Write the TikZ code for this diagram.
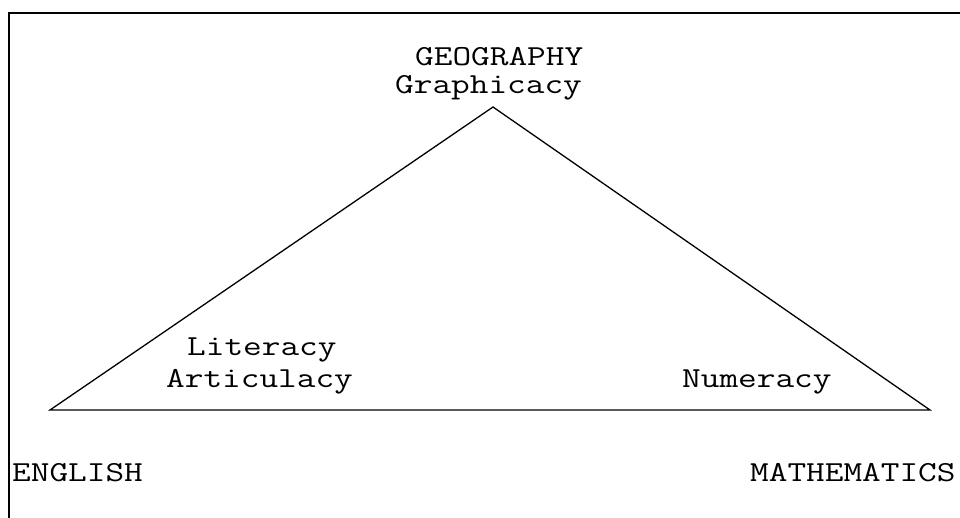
\documentclass[tikz,border=0pt]{standalone}
\newcommand{\wide}[1]{\scalebox{1.25}[1]{#1}}
\begin{document}
\begin{tikzpicture}[x=1pt,y=-1pt,
  lbl/.style={font=\ttfamily\fontsize{29}{29}\selectfont, inner sep=0pt, anchor=base west, text height=17pt, text depth=5pt},
  edge/.style={line width=1.3pt, black}]
\useasboundingbox (0,0) rectangle (960,518);
\begin{scope}
\clip (0,0) rectangle (960,518);
\draw[line width=2pt] (9,530) -- (9,13) -- (970,13);
\coordinate (apex) at (493,107);
\coordinate (left) at (50,410);
\coordinate (right) at (930,410);
\draw[edge] (apex) -- (left) -- (right) -- cycle;
\node[lbl] (geo) at (415,66) {\wide{GEOGRAPHY}};
\node[lbl] (graph) at (395,94) {\wide{Graphicacy}};
\node[lbl] (lit) at (187,355) {\wide{Literacy}};
\node[lbl] (art) at (166,387) {\wide{Articulacy}};
\node[lbl] (num) at (682,387) {\wide{Numeracy}};
\node[lbl] (eng) at (12,481) {\wide{ENGLISH}};
\node[lbl] (math) at (750,481) {\wide{MATHEMATICS}};
\end{scope}
\end{tikzpicture}
\end{document}
